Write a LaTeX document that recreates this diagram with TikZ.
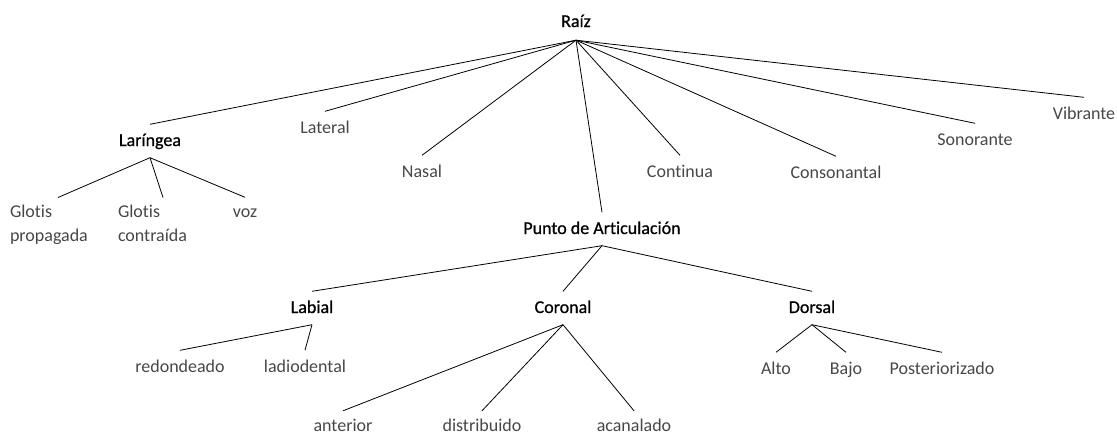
\documentclass[tikz,border=0pt]{standalone}
\usepackage{fontspec}
\setmainfont{Carlito}[Ligatures={NoCommon}]
\newfontfamily\hdfont{Carlito}[Ligatures={NoCommon}, FakeBold=0.8]
\begin{document}
\begin{tikzpicture}[x=1pt,y=-1pt,
  lbl/.style={inner xsep=0pt, inner ysep=8.5pt, text height=13pt, text depth=3pt,
    font=\fontsize{18}{24}\selectfont, text=black!72},
  hd/.style={lbl, text=black, font=\fontsize{18}{24}\selectfont\hdfont},
  multi/.style={inner xsep=0pt, inner ysep=7.5pt, anchor=north, align=left,
    font=\fontsize{18}{24}\selectfont, text=black!72},
  conn/.style={line width=0.8pt, black}]
\useasboundingbox (0,0) rectangle (1117,434);
% nodes
\node[hd, inner ysep=10pt] (raiz) at (576,22) {Raíz};
\node[hd] (lar) at (150,141) {Laríngea};
\node[lbl] (lat) at (325,128) {Lateral};
\node[lbl] (nas) at (422,172) {Nasal};
\node[lbl] (cont) at (680,172) {Continua};
\node[lbl] (cons) at (836,173) {Consonantal};
\node[lbl] (son) at (975,140) {Sonorante};
\node[lbl] (vib) at (1084,114) {Vibrante};
\node[multi, text width=96pt] (gp) at (58,197.5) {Glotis\\propagada};
\node[multi, text width=90pt] (gc) at (163,197.5) {Glotis\\contraída};
\node[lbl, inner ysep=6.5pt] (voz) at (245,212) {voz};
\node[hd] (pa) at (602,229) {Punto de Articulación};
\node[hd] (lab) at (312,308) {Labial};
\node[hd] (cor) at (563,308) {Coronal};
\node[hd] (dor) at (812,308) {Dorsal};
\node[lbl] (red) at (180,367) {redondeado};
\node[lbl] (ladi) at (305,367) {ladiodental};
\node[lbl, inner ysep=7pt] (ant) at (343,426) {anterior};
\node[lbl, inner ysep=7pt] (dist) at (482,426) {distribuido};
\node[lbl, inner ysep=7pt] (acan) at (634,426) {acanalado};
\node[lbl] (alto) at (776,369) {Alto};
\node[lbl] (bajo) at (846,369) {Bajo};
\node[lbl] (post) at (942,369) {Posteriorizado};
% connectors
\foreach \c in {lar,lat,nas,pa,cont,cons,son,vib}
  \draw[conn] (raiz.south) -- (\c.north);
\foreach \c in {gp,gc,voz}
  \draw[conn] (lar.south) -- (\c.north);
\foreach \c in {lab,cor,dor}
  \draw[conn] (pa.south) -- (\c.north);
\foreach \c in {red,ladi}
  \draw[conn] (lab.south) -- (\c.north);
\foreach \c in {ant,dist,acan}
  \draw[conn] (cor.south) -- (\c.north);
\foreach \c in {alto,bajo,post}
  \draw[conn] (dor.south) -- (\c.north);
\end{tikzpicture}
\end{document}
